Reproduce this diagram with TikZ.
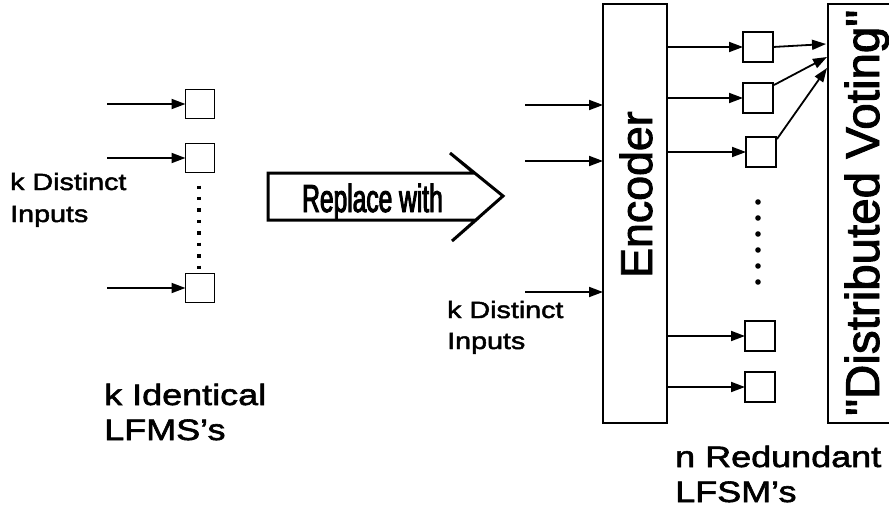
\documentclass[tikz,border=0pt]{standalone}
\usepackage{fontspec}
\setmainfont[Ligatures=TeXOff,FakeBold=2]{Liberation Sans}
\newfontfamily\widefont[Ligatures=TeXOff,FakeStretch=1.22,FakeBold=2]{Liberation Sans}
\newfontfamily\narrowfont[Ligatures=TeXOff,FakeStretch=0.63,FakeBold=2.5]{Liberation Sans}
\usetikzlibrary{arrows.meta,calc}
\begin{document}
\begin{tikzpicture}[x=1pt,y=-1pt,
  cell/.style={draw,line width=1.4pt,minimum width=29pt,minimum height=29pt,inner sep=0pt,outer sep=0pt},
  block/.style={draw,line width=1.5pt,inner sep=0pt,outer sep=0pt},
  feed/.style={line width=1.8pt,-{Triangle[length=14pt,width=10pt]}},
  smalllbl/.style={inner sep=0pt,anchor=base west,font=\widefont\fontsize{23.5}{28}\selectfont},
  biglbl/.style={inner sep=0pt,anchor=base west,font=\widefont\fontsize{29.5}{35}\selectfont}
]
\useasboundingbox (0,0) rectangle (889,530);

% ---- left: k identical machines ----
\node[cell] (l1) at (200,104) {};
\node[cell] (l2) at (200,158) {};
\node[cell] (l3) at (200,288) {};
\coordinate (li1) at (107,104);
\coordinate (li2) at (107,158);
\coordinate (li3) at (107,288);
\draw[feed] (li1) -- (l1.west);
\draw[feed] (li2) -- (l2.west);
\draw[feed] (li3) -- (l3.west);
\draw[line width=4pt,dash pattern=on 3.5pt off 7.93pt] ($(l2.south)+(-1,13)$) -- ($(l3.north)+(-1,-4)$);

\node[smalllbl] (ld1) at (10,190) {k Distinct};
\node[smalllbl] (ld2) at (10,222) {Inputs};
\node[biglbl] (lk1) at (104,405) {k Identical};
\node[biglbl] (lk2) at (104,440) {LFMS’s};

% ---- replacement arrow ----
\draw[line width=3pt,line join=miter]
  (268,173) -- (474,173) -- (450,153) -- (503,196) -- (452,241) -- (476,220) -- (268,220) -- cycle;
\node[inner sep=0pt,anchor=base west,font=\narrowfont\fontsize{39}{44}\selectfont] (rep) at (302,212) {Replace with};

% ---- encoder ----
\node[block,minimum width=64pt,minimum height=419pt] (enc) at (635,213.5) {};
\node[inner sep=0pt,anchor=base west,rotate=90,font=\fontsize{44.7}{50}\selectfont] (enct) at (652,278) {Encoder};
\coordinate (ei1) at (525,105);
\coordinate (ei2) at (525,161);
\coordinate (ei3) at (525,292);
\draw[feed] (ei1) -- (enc.west |- ei1);
\draw[feed] (ei2) -- (enc.west |- ei2);
\draw[feed] (ei3) -- (enc.west |- ei3);
\node[smalllbl] (rd1) at (447,318) {k Distinct};
\node[smalllbl] (rd2) at (447,349) {Inputs};

% ---- n redundant machines ----
\node[cell,minimum width=30pt,minimum height=30pt] (r1) at (758,47) {};
\node[cell,minimum width=30pt,minimum height=30pt] (r2) at (758,98) {};
\node[cell,minimum width=30pt,minimum height=30pt] (r3) at (761,152) {};
\node[cell,minimum width=30pt,minimum height=30pt] (r4) at (760,336) {};
\node[cell,minimum width=30pt,minimum height=30pt] (r5) at (760,387) {};
\draw[feed] (enc.east |- r1) -- (r1.west);
\draw[feed] (enc.east |- r2) -- (r2.west);
\draw[feed] (enc.east |- r3) -- (r3.west);
\draw[feed] (enc.east |- r4) -- (r4.west);
\draw[feed] (enc.east |- r5) -- (r5.west);
\foreach \yy in {202,218,234,250,266,282}
  \fill (758,\yy) circle (2.8pt);

% ---- distributed voting ----
\node[block,minimum width=64pt,minimum height=419pt] (vote) at (860,213.5) {};
\node[inner sep=0pt,anchor=base west,rotate=90,font=\fontsize{47.5}{52}\selectfont] (votet) at (879,416) {"Distributed Voting"};
\coordinate (v1) at (826,44);
\coordinate (v2) at (827,57);
\coordinate (v3) at (827,68);
\draw[feed] (r1.east) -- (v1);
\draw[feed] ($(r2.north east)+(1,2)$) -- (v2);
\draw[feed] ($(r3.north east)+(1,2)$) -- (v3);

\node[biglbl] (nr1) at (675,467) {n Redundant};
\node[biglbl] (nr2) at (675,502) {LFSM’s};
\end{tikzpicture}
\end{document}
